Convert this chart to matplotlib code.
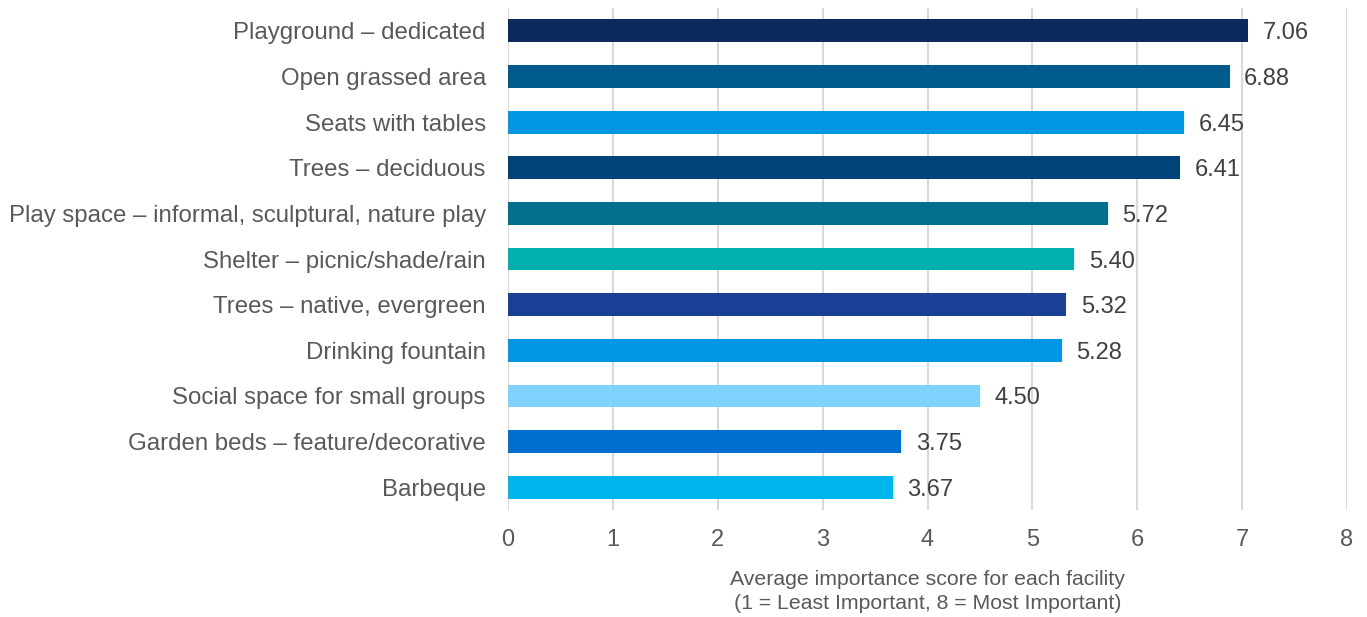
import matplotlib.pyplot as plt

plt.rcParams['font.family'] = ['Liberation Sans', 'DejaVu Sans']

facilities = ["Playground \u2013 dedicated", "Open grassed area", "Seats with tables",
              "Trees \u2013 deciduous", "Play space \u2013 informal, sculptural, nature play",
              "Shelter \u2013 picnic/shade/rain", "Trees \u2013 native, evergreen",
              "Drinking fountain", "Social space for small groups",
              "Garden beds \u2013 feature/decorative", "Barbeque"]
scores = [7.06, 6.88, 6.45, 6.41, 5.72, 5.40, 5.32, 5.28, 4.50, 3.75, 3.67]
colors = ["#0D2A5E", "#005A8C", "#0096E3", "#00427A", "#00708F", "#00B0AE",
          "#1A3F96", "#0096E6", "#7FD2FF", "#006ECE", "#00B4EE"]

fig = plt.figure(figsize=(13.67, 6.17), dpi=100)
ax = fig.add_axes([508/1367, 1-510/617, (1347-508)/1367, 502/617])

y = list(range(len(facilities)))
ax.barh(y, scores, height=0.5, color=colors, zorder=3)
for yi, s in zip(y, scores):
    ax.text(s + 0.14, yi, f"{s:.2f}", va='center_baseline', ha='left', fontsize=17, color='#404040')

ax.set_ylim(len(facilities)-0.5, -0.5)
ax.set_xlim(0, 8)
ax.set_xticks(range(9))
ax.set_yticks(y)
ax.set_yticklabels(facilities)
ax.tick_params(axis='both', length=0, labelsize=17, labelcolor='#595959')
ax.tick_params(axis='y', labelsize=17.3, pad=16)
ax.tick_params(axis='x', pad=13.5)
ax.grid(axis='x', color='#D9D9D9', linewidth=1.5, zorder=0)
for sp in ax.spines.values():
    sp.set_visible(False)

ax.set_xlabel("Average importance score for each facility\n(1 = Least Important, 8 = Most Important)",
              fontsize=15.3, color='#595959', labelpad=14, linespacing=1.3)

fig.savefig("out.png", dpi=100)
